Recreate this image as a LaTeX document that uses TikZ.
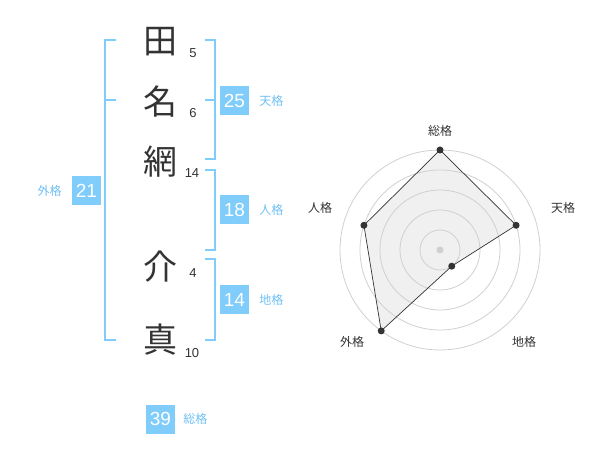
\documentclass[tikz,border=0pt]{standalone}
\usepackage{fontspec}
\setmainfont{Liberation Sans}
\newfontfamily\jp{Noto Sans CJK JP}
\usepackage{xcolor}
\usepackage{tikz}
\usetikzlibrary{shapes,arrows,positioning,calc}

\definecolor{kakublue}{RGB}{128,204,250}
\definecolor{kakutext}{RGB}{110,192,242}
\definecolor{ringgray}{RGB}{208,208,208}
\definecolor{inkdark}{RGB}{51,51,51}

\tikzset{
    kanji/.style={font=\jp\fontsize{34}{34}\selectfont, text=inkdark, inner sep=0pt},
    strokes/.style={font=\fontsize{13}{13}\selectfont, text=inkdark, inner sep=0pt},
    score/.style={fill=kakublue, text=white, minimum size=29pt, inner sep=0pt,
                  font=\fontsize{19}{19}\selectfont},
    kaku/.style={text=kakutext, font=\jp\fontsize{12}{12}\selectfont, inner sep=0pt},
    bracket/.style={draw=kakublue, line width=2pt},
    ring/.style={draw=ringgray, line width=0.8pt},
    axislabel/.style={text=inkdark, font=\jp\fontsize{12}{12}\selectfont, inner sep=0pt},
    dot/.style={circle, fill=inkdark, inner sep=0pt, minimum size=7pt},
}

\begin{document}
\begin{tikzpicture}[x=1pt, y=-1pt]
                \useasboundingbox (0,0) rectangle (600,470);

                % name, one character per row
                \node[kanji] (k1) at (160,42) {田};
                \node[kanji] (k2) at (160,102) {名};
                \node[kanji] (k3) at (160,162) {網};
                \node[kanji] (k4) at (160,267) {介};
                \node[kanji] (k5) at (160,340) {真};

                % stroke counts
                \node[strokes] (s1) at (193,53) {5};
                \node[strokes] (s2) at (193,113) {6};
                \node[strokes] (s3) at (192,173) {14};
                \node[strokes] (s4) at (193,273) {4};
                \node[strokes] (s5) at (192,353) {10};

                % brackets
                \draw[bracket] (116,40) -- (105,40) -- (105,340) -- (116,340);
                \draw[bracket] (105,100) -- (116,100);
                \draw[bracket] (205,40) -- (215,40) -- (215,159) -- (205,159);
                \draw[bracket] (205,100) -- (215,100);
                \draw[bracket] (205,170) -- (215,170) -- (215,250) -- (205,250);
                \draw[bracket] (205,259) -- (215,259) -- (215,340) -- (205,340);

                % scores
                \node[score] (ten) at (234.5,100.5) {25};
                \node[kaku, right=10pt of ten] (tenl) {天格};
                \node[score] (jin) at (234.5,210) {18};
                \node[kaku, right=10pt of jin] (jinl) {人格};
                \node[score] (chi) at (234.5,300) {14};
                \node[kaku, right=10pt of chi] (chil) {地格};
                \node[score] (gai) at (86.5,190.5) {21};
                \node[kaku, left=10pt of gai] (gail) {外格};
                \node[score] (sou) at (160.5,419) {39};
                \node[kaku, right=8pt of sou] (soul) {総格};

                % radar chart
                \coordinate (c) at (440,250);
                \coordinate (p1) at ($(c)+(90:100pt)$);
                \coordinate (p2) at ($(c)+(18:80pt)$);
                \coordinate (p3) at ($(c)+(-54:20pt)$);
                \coordinate (p4) at ($(c)+(234:100pt)$);
                \coordinate (p5) at ($(c)+(162:80pt)$);

                \fill[gray!12] (p1) -- (p2) -- (p3) -- (p4) -- (p5) -- cycle;
                \foreach \r in {20,40,...,100}
                    \draw[ring] (c) circle (\r pt);
                \fill[ringgray] (c) circle (3.5pt);
                \draw[inkdark, line width=0.7pt] (p1) -- (p2) -- (p3) -- (p4) -- (p5) -- cycle;
                \foreach \p in {p1,p2,p3,p4,p5}
                    \node[dot] at (\p) {};

                \node[axislabel] (a1) at (440,130.5) {総格};
                \node[axislabel] (a2) at (563,208) {天格};
                \node[axislabel] (a3) at (524,342) {地格};
                \node[axislabel] (a4) at (352,342) {外格};
                \node[axislabel] (a5) at (320,208) {人格};

\end{tikzpicture}
\end{document}
